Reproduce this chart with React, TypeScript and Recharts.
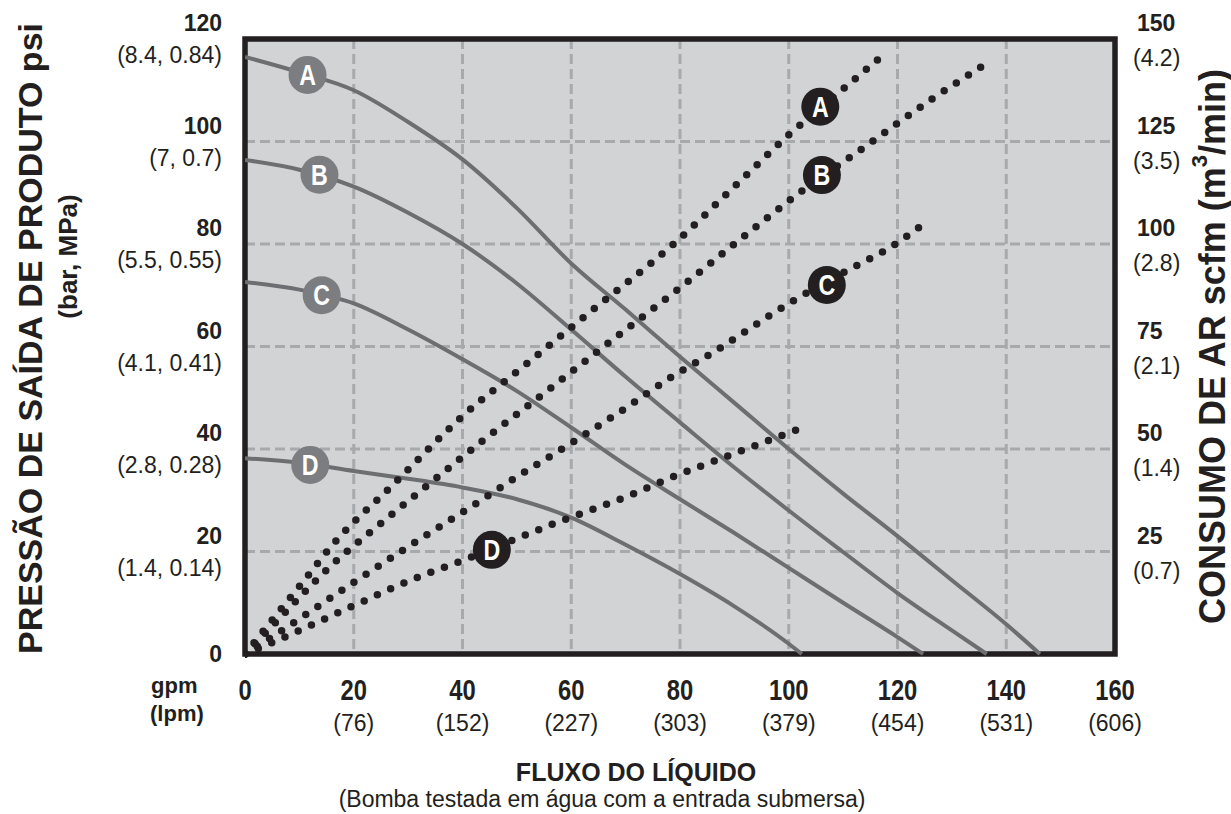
import React from 'react';
import { LineChart, Line, XAxis, YAxis, CartesianGrid, ReferenceArea, ReferenceDot } from 'recharts';

const gpmTicks = [0, 20, 40, 60, 80, 100, 120, 140, 160];
const lpmLabels = ['', '(76)', '(152)', '(227)', '(303)', '(379)', '(454)', '(531)', '(606)'];
const psiTicks = [0, 20, 40, 60, 80, 100, 120];
const barMpaLabels = ['', '(1.4, 0.14)', '(2.8, 0.28)', '(4.1, 0.41)', '(5.5, 0.55)', '(7, 0.7)', '(8.4, 0.84)'];
const scfmTicks = [25, 50, 75, 100, 125, 150];
const m3minLabels = ['(0.7)', '(1.4)', '(2.1)', '(2.8)', '(3.5)', '(4.2)'];

// outlet pressure (gpm -> psi)
const pressureA = [
  { gpm: 0, psi: 116.5 }, { gpm: 10, psi: 113.5 }, { gpm: 20, psi: 110 }, { gpm: 30, psi: 103.8 },
  { gpm: 40, psi: 96.5 }, { gpm: 50, psi: 87 }, { gpm: 60, psi: 76.2 }, { gpm: 70, psi: 67.2 },
  { gpm: 80, psi: 58 }, { gpm: 90, psi: 49 }, { gpm: 100, psi: 40 }, { gpm: 110, psi: 31.3 },
  { gpm: 120, psi: 23 }, { gpm: 130, psi: 14.4 }, { gpm: 140, psi: 5.8 }, { gpm: 146.2, psi: 0 },
];
const pressureB = [
  { gpm: 0, psi: 96.4 }, { gpm: 10, psi: 94.5 }, { gpm: 20, psi: 91.2 }, { gpm: 30, psi: 86.1 },
  { gpm: 40, psi: 80 }, { gpm: 50, psi: 72.3 }, { gpm: 60, psi: 63.3 }, { gpm: 70, psi: 54.1 },
  { gpm: 80, psi: 45.2 }, { gpm: 90, psi: 36.4 }, { gpm: 100, psi: 28 }, { gpm: 110, psi: 19.9 },
  { gpm: 120, psi: 11.9 }, { gpm: 130, psi: 4.6 }, { gpm: 136.4, psi: 0 },
];
const pressureC = [
  { gpm: 0, psi: 72.6 }, { gpm: 10, psi: 71.1 }, { gpm: 20, psi: 68.4 }, { gpm: 30, psi: 63.3 },
  { gpm: 40, psi: 57.5 }, { gpm: 50, psi: 51.3 }, { gpm: 60, psi: 44.2 }, { gpm: 70, psi: 36.9 },
  { gpm: 80, psi: 30.2 }, { gpm: 90, psi: 23.6 }, { gpm: 100, psi: 16.8 }, { gpm: 110, psi: 10 },
  { gpm: 120, psi: 3.3 }, { gpm: 124.7, psi: 0 },
];
const pressureD = [
  { gpm: 0, psi: 38.2 }, { gpm: 10, psi: 37.3 }, { gpm: 20, psi: 35.7 }, { gpm: 30, psi: 34.2 },
  { gpm: 40, psi: 32.5 }, { gpm: 50, psi: 30.2 }, { gpm: 60, psi: 26.6 }, { gpm: 70, psi: 21.3 },
  { gpm: 80, psi: 15.6 }, { gpm: 90, psi: 9.3 }, { gpm: 100, psi: 2 }, { gpm: 102.4, psi: 0 },
];

// air consumption (gpm -> scfm)
const airA = [
  { gpm: 0, scfm: 0 }, { gpm: 3, scfm: 5 }, { gpm: 10, scfm: 16.5 }, { gpm: 17, scfm: 28 },
  { gpm: 27, scfm: 41 }, { gpm: 40, scfm: 58 }, { gpm: 52, scfm: 71 }, { gpm: 64, scfm: 84 },
  { gpm: 79, scfm: 100.2 }, { gpm: 90, scfm: 114 }, { gpm: 100, scfm: 126.6 }, { gpm: 110, scfm: 137.8 },
  { gpm: 117.3, scfm: 146 },
];
const airB = [
  { gpm: 0, scfm: 0 }, { gpm: 5, scfm: 6.8 }, { gpm: 10, scfm: 13.8 }, { gpm: 15.3, scfm: 20.9 },
  { gpm: 24, scfm: 30.8 }, { gpm: 32.5, scfm: 40 }, { gpm: 43.5, scfm: 51.8 }, { gpm: 55, scfm: 63.6 },
  { gpm: 66, scfm: 75 }, { gpm: 79.5, scfm: 88.8 }, { gpm: 90, scfm: 100 }, { gpm: 101.5, scfm: 112 },
  { gpm: 114, scfm: 123.7 }, { gpm: 126.5, scfm: 135.5 }, { gpm: 136.1, scfm: 143.8 },
];
const airC = [
  { gpm: 0, scfm: 0 }, { gpm: 5, scfm: 4.2 }, { gpm: 20, scfm: 17.5 }, { gpm: 31, scfm: 27 },
  { gpm: 40.5, scfm: 35 }, { gpm: 50, scfm: 43.2 }, { gpm: 59.5, scfm: 51 }, { gpm: 69, scfm: 59.1 },
  { gpm: 78.5, scfm: 67.6 }, { gpm: 86, scfm: 73.5 }, { gpm: 100, scfm: 85.5 }, { gpm: 110, scfm: 93 },
  { gpm: 120, scfm: 100.3 }, { gpm: 124.5, scfm: 104.6 },
];
const airD = [
  { gpm: 0, scfm: 0 }, { gpm: 5, scfm: 2.8 }, { gpm: 20, scfm: 11.8 }, { gpm: 31, scfm: 18.3 },
  { gpm: 40, scfm: 22.8 }, { gpm: 57.4, scfm: 32.1 }, { gpm: 70.6, scfm: 38.6 }, { gpm: 78.5, scfm: 43.1 },
  { gpm: 89, scfm: 48.4 }, { gpm: 102.1, scfm: 55 },
];

const pressureTags = [
  { name: 'A', gpm: 11.5, psi: 113 },
  { name: 'B', gpm: 13.7, psi: 93.5 },
  { name: 'C', gpm: 14.1, psi: 70 },
  { name: 'D', gpm: 12, psi: 36.9 },
];
const airTags = [
  { name: 'A', gpm: 105.8, scfm: 133.5 },
  { name: 'B', gpm: 106.1, scfm: 116.8 },
  { name: 'C', gpm: 107, scfm: 90 },
  { name: 'D', gpm: 45.4, scfm: 25.4 },
];

const FONT = "'Liberation Sans', Arial, Helvetica, sans-serif";
const INK = '#231f20';
const CURVE = '#6d6e71';

const GpmTick = (props: any) => {
  const { y, payload, index } = props;
  const x = payload.coordinate;
  return (
    <g fontFamily={FONT} fill={INK}>
      <text transform={`translate(${x},${y + 46}) scale(0.82,1)`} textAnchor="middle" fontSize={29} fontWeight="bold" fill={INK}>
        {payload.value}
      </text>
      {lpmLabels[index] ? (
        <text x={x} y={y + 77} textAnchor="middle" fontSize={23} fill={INK}>{lpmLabels[index]}</text>
      ) : null}
    </g>
  );
};

const PsiTick = (props: any) => {
  const { x, payload, index } = props;
  const y = payload.coordinate;
  const first = index === 0;
  return (
    <g fontFamily={FONT}>
      <text x={x - 23} y={first ? y : y - 16} dy="0.36em" textAnchor="end" fontSize={23} fontWeight="bold" fill={INK}>
        {payload.value}
      </text>
      {barMpaLabels[index] ? (
        <text x={x - 23} y={y + 16} dy="0.36em" textAnchor="end" fontSize={23} fill={INK}>{barMpaLabels[index]}</text>
      ) : null}
    </g>
  );
};

const ScfmTick = (props: any) => {
  const { x, payload, index } = props;
  const y = payload.coordinate;
  return (
    <g fontFamily={FONT}>
      <text x={x + 22} y={y - 16} dy="0.36em" textAnchor="start" fontSize={23} fontWeight="bold" fill={INK}>
        {payload.value}
      </text>
      <text x={x + 18} y={y + 19} dy="0.36em" textAnchor="start" fontSize={23} fill={INK}>{m3minLabels[index]}</text>
    </g>
  );
};

const LeftTitle = (props: any) => {
  const { viewBox } = props;
  const cy = viewBox.y + viewBox.height / 2;
  return (
    <g fontFamily={FONT} fill={INK} fontWeight="bold">
      <text transform={`translate(${viewBox.x + 30},${cy - 8}) rotate(-90)`} textAnchor="middle" dominantBaseline="central" fontSize={34}>
        PRESSÃO DE SAÍDA DE PRODUTO psi
      </text>
      <text transform={`translate(${viewBox.x + 68},${cy - 90}) rotate(-90)`} textAnchor="middle" dominantBaseline="central" fontSize={26}>
        (bar, MPa)
      </text>
    </g>
  );
};

const RightTitle = (props: any) => {
  const { viewBox } = props;
  const cy = viewBox.y + viewBox.height / 2;
  return (
    <text transform={`translate(${viewBox.x + 97},${cy}) rotate(-90)`} textAnchor="middle" dominantBaseline="central"
      fontFamily={FONT} fontWeight="bold" fontSize={36} fill={INK}>
      <tspan>CONSUMO DE AR scfm (m</tspan>
      <tspan dy={-13} fontSize={22}>3</tspan>
      <tspan dy={13}>/min)</tspan>
    </text>
  );
};

const BottomTitle = (props: any) => {
  const { viewBox } = props;
  return (
    <g fontFamily={FONT} fill={INK}>
      <text x={viewBox.x - 94} y={viewBox.y + 39} fontSize={22} fontWeight="bold">gpm</text>
      <text x={viewBox.x - 95} y={viewBox.y + 67} fontSize={22} fontWeight="bold">(lpm)</text>
      <text x={viewBox.x + 391} y={viewBox.y + 127} textAnchor="middle" fontSize={25} fontWeight="bold">FLUXO DO LÍQUIDO</text>
      <text x={viewBox.x + 357} y={viewBox.y + 153} textAnchor="middle" fontSize={23}>
        (Bomba testada em água com a entrada submersa)
      </text>
    </g>
  );
};

const tag = (name: string, fill: string) => (p: any) => (
  <g>
    <circle cx={p.cx} cy={p.cy} r={19} fill={fill} />
    <text transform={`translate(${p.cx},${p.cy + 10}) scale(0.8,1)`} textAnchor="middle" fontFamily={FONT}
      fontWeight="bold" fontSize={29} fill="#ffffff">{name}</text>
  </g>
);

const pressureSeries = [pressureA, pressureB, pressureC, pressureD];
const airSeries = [airA, airB, airC, airD];

export default function App() {
  return (
    <div style={{ position: 'absolute', left: 0, top: 0 }}>
      <LineChart width={1231} height={814} margin={{ top: 39, right: 0, bottom: 0, left: 0 }}>
        <CartesianGrid yAxisId="psi" fill="#d1d3d4" fillOpacity={1} stroke="#a7a9ac" strokeWidth={3} strokeDasharray="10 5" />
        <XAxis type="number" dataKey="gpm" domain={[0, 160]} ticks={gpmTicks} interval={0} height={160}
          axisLine={false} tickLine={false} tickSize={0} tickMargin={0} tick={GpmTick} label={BottomTitle} allowDataOverflow />
        <YAxis yAxisId="psi" type="number" domain={[0, 120]} ticks={psiTicks} interval={0} width={245}
          axisLine={false} tickLine={false} tickSize={0} tickMargin={0} tick={PsiTick} label={LeftTitle} />
        <YAxis yAxisId="scfm" orientation="right" type="number" domain={[0, 150]} ticks={scfmTicks} interval={0} width={116}
          axisLine={false} tickLine={false} tickSize={0} tickMargin={0} tick={ScfmTick} label={RightTitle} />
        {pressureSeries.map((d, i) => (
          <Line key={'p' + i} yAxisId="psi" data={d} dataKey="psi" type="monotone" stroke={CURVE} strokeWidth={4}
            dot={false} activeDot={false} isAnimationActive={false} />
        ))}
        {airSeries.map((d, i) => (
          <Line key={'a' + i} yAxisId="scfm" data={d} dataKey="scfm" type="monotone" stroke={INK} strokeWidth={7.5}
            strokeDasharray="0 14.5" strokeLinecap="round" dot={false} activeDot={false} isAnimationActive={false} />
        ))}
        <ReferenceArea yAxisId="psi" x1={0} x2={160} y1={0} y2={120} fill="none" fillOpacity={0} stroke={INK} strokeWidth={5.5} ifOverflow="visible" />
        {pressureTags.map((t) => (
          <ReferenceDot key={'pt' + t.name} yAxisId="psi" x={t.gpm} y={t.psi} r={19} shape={tag(t.name, '#7c7d80')} ifOverflow="visible" />
        ))}
        {airTags.map((t) => (
          <ReferenceDot key={'at' + t.name} yAxisId="scfm" x={t.gpm} y={t.scfm} r={19} shape={tag(t.name, INK)} ifOverflow="visible" />
        ))}
      </LineChart>
    </div>
  );
}
